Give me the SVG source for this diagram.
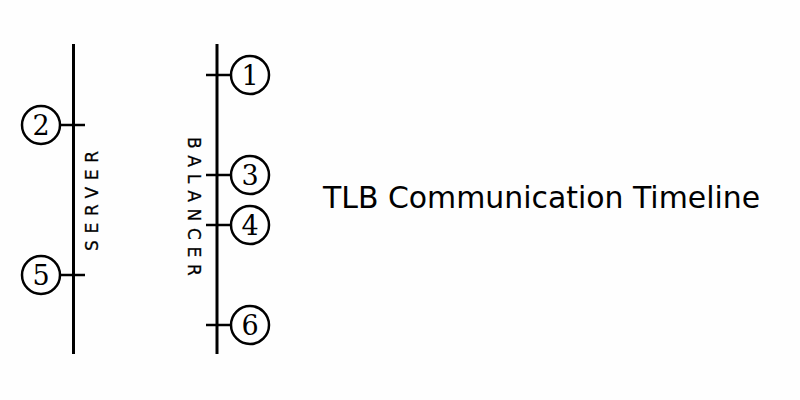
<svg xmlns="http://www.w3.org/2000/svg" width="800" height="400" viewBox="0 0 800 400">
<style>
.ln{stroke:#000;stroke-width:3;fill:none}
.tk{stroke:#000;stroke-width:2.5;fill:none}
.c{fill:#fff;stroke:#000;stroke-width:2.5}
.d{font-family:"DejaVu Serif","Liberation Serif",serif;font-size:27px;text-anchor:middle;fill:#000}
.lab{font-family:"DejaVu Sans","Liberation Sans",sans-serif;font-size:17px;letter-spacing:6.7px;fill:#000;stroke:#000;stroke-width:0.3}
.t{font-family:"DejaVu Sans","Liberation Sans",sans-serif;font-size:29.9px;fill:#000}
</style>
<rect width="800" height="400" fill="#fefefe"/>
<g id="connectors">
<line class="ln" x1="73.5" y1="44" x2="73.5" y2="354"/>
<line class="ln" x1="217" y1="44" x2="217" y2="354"/>
<line class="tk" x1="60" y1="125" x2="85" y2="125"/>
<line class="tk" x1="60" y1="275" x2="85" y2="275"/>
<line class="tk" x1="206" y1="75" x2="231" y2="75"/>
<line class="tk" x1="206" y1="175" x2="231" y2="175"/>
<line class="tk" x1="206" y1="225" x2="231" y2="225"/>
<line class="tk" x1="206" y1="325" x2="231" y2="325"/>
</g>
<g id="server"><text class="lab" transform="translate(98,251) rotate(-90)">SERVER</text></g>
<g id="balancer"><text class="lab" transform="translate(188,137) rotate(90)">BALANCER</text></g>
<g id="n1"><circle class="c" cx="250" cy="75" r="19"/><text class="d" x="250" y="85">1</text></g>
<g id="n2"><circle class="c" cx="41" cy="125" r="19"/><text class="d" x="41" y="135">2</text></g>
<g id="n3"><circle class="c" cx="250" cy="175" r="19"/><text class="d" x="250" y="185">3</text></g>
<g id="n4"><circle class="c" cx="250" cy="225" r="19"/><text class="d" x="250" y="235">4</text></g>
<g id="n5"><circle class="c" cx="41" cy="275" r="19"/><text class="d" x="41" y="285">5</text></g>
<g id="n6"><circle class="c" cx="250" cy="325" r="19"/><text class="d" x="250" y="335">6</text></g>
<g id="title"><text class="t" x="323" y="208">TLB Communication Timeline</text></g>
</svg>
